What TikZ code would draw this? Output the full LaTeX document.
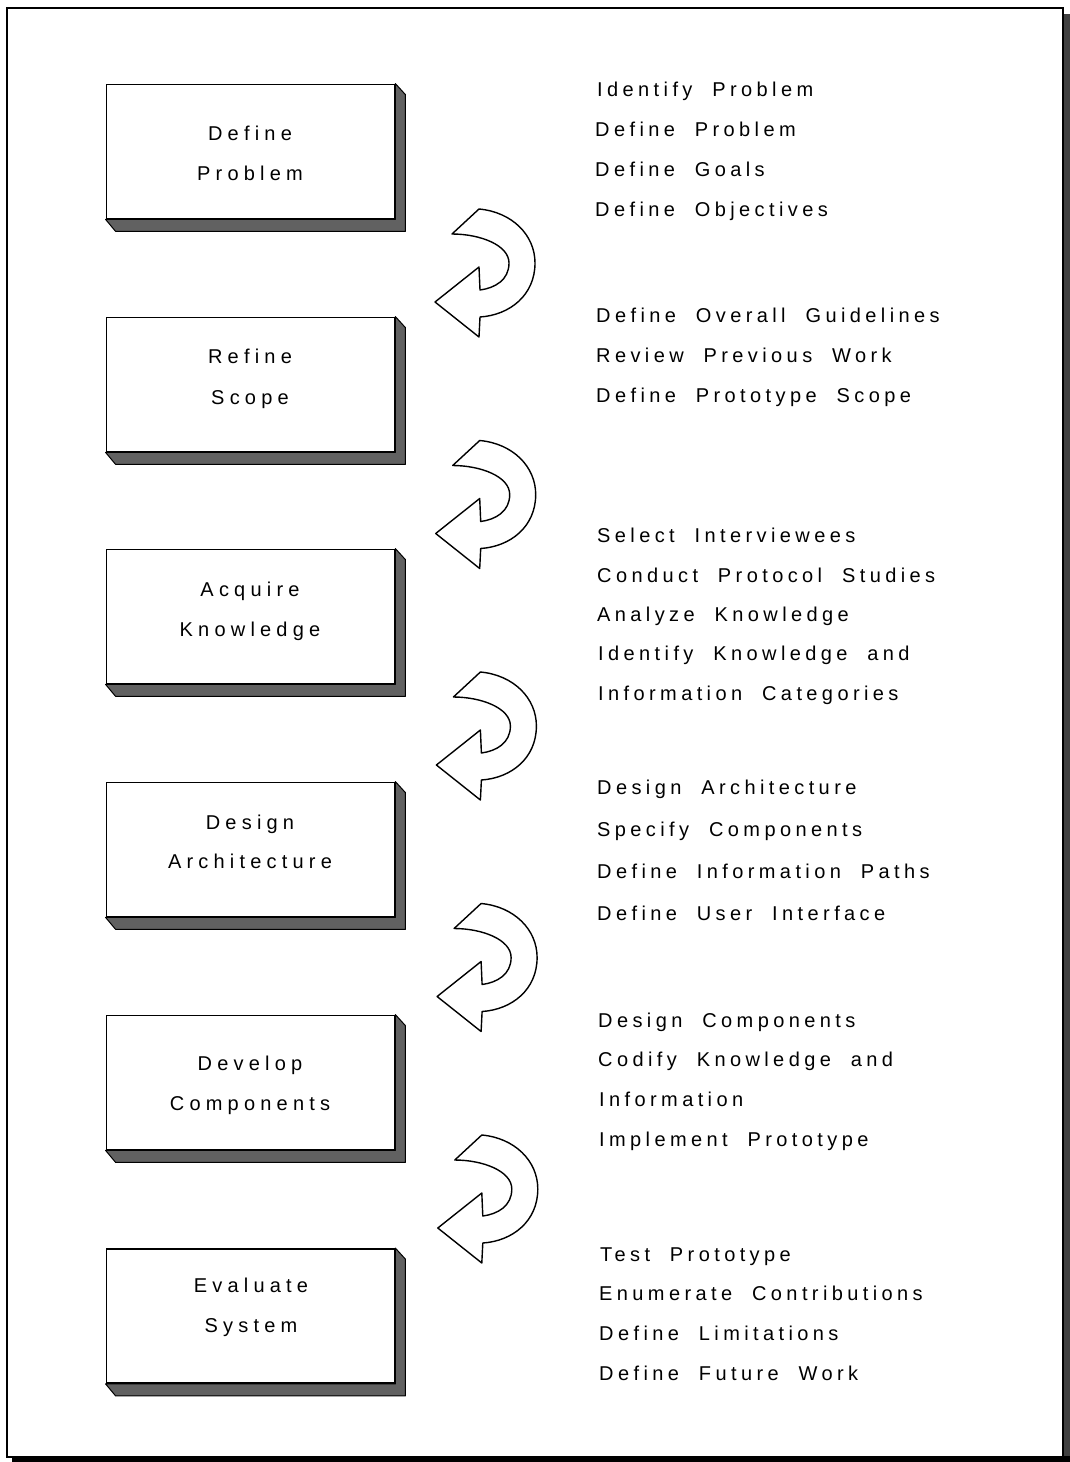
\documentclass[tikz,border=0pt]{standalone}
\usepackage{fontspec}
\setmainfont{Liberation Sans}[LetterSpace=22, WordSpace=2]
\newfontfamily\boxfont{Liberation Sans}[LetterSpace=26, WordSpace=2]
\usetikzlibrary{calc}
\begin{document}
\begin{tikzpicture}[x=1pt,y=-1pt,
  font=\fontsize{20}{24}\selectfont,
  boxface/.style={draw, line width=1.8pt, fill=white, minimum width=288pt, minimum height=134pt, inner sep=0pt},
  boxshade/.style={fill=black!62, draw=black, line width=1pt, line join=round},
  boxtext/.style={anchor=base, inner sep=0pt, font=\boxfont\fontsize{20}{24}\selectfont},
  itemtext/.style={anchor=base west, inner sep=0pt},
  turnarrow/.style={draw=black, line width=1.4pt, fill=white, line join=round}
]
\useasboundingbox (0,0) rectangle (1070,1462);
\fill[white] (0,0) rectangle (1070,1462);
% frame
\fill[black!75] (1063,14) rectangle (1070,1462);
\fill[black] (12,1456) rectangle (1070,1462);
\draw[line width=2.2pt] (7,8) rectangle (1063,1457);

% boxes
\foreach \i/\cy in {1/151.5, 2/384.5, 3/616.5, 4/849.5, 5/1082.5, 6/1316} {
  \node[boxface] (b\i) at (250.5,\cy) {};
  \fill[boxshade] (b\i.north east) -- ($(b\i.north east)+(10,11)$) -- ($(b\i.south east)+(10,12)$)
     -- ($(b\i.south west)+(10,12)$) -- (b\i.south west) -- (b\i.south east) -- cycle;
  \node[boxface] at (b\i) {};
}

% box labels
\node[boxtext] (t1a) at (250,140) {Define};
\node[boxtext] (t1b) at (250,180) {Problem};
\node[boxtext] (t2a) at (250,363) {Refine};
\node[boxtext] (t2b) at (250,404) {Scope};
\node[boxtext] (t3a) at (250,596) {Acquire};
\node[boxtext] (t3b) at (250,636) {Knowledge};
\node[boxtext] (t4a) at (250,829) {Design};
\node[boxtext] (t4b) at (250,868) {Architecture};
\node[boxtext] (t5a) at (250,1070) {Develop};
\node[boxtext] (t5b) at (250,1110) {Components};
\node[boxtext] (t6a) at (251,1292) {Evaluate};
\node[boxtext] (t6b) at (251,1332) {System};

% curved arrows
\foreach \k in {0,...,4} {
  \begin{scope}[shift={({420+0.7*\k},{200+231.5*\k})}]
    \draw[turnarrow] (60,90) -- (59,67) -- (15,102) -- (59,137) -- (60,117)
      .. controls (90,115) and (115,95) .. (115,63)
      .. controls (115,35) and (92,12) .. (59,9)
      -- (32,34)
      .. controls (60,34) and (89,45) .. (89,63)
      .. controls (89,80) and (75,88) .. (60,90) -- cycle;
  \end{scope}
}

% item lists
\node[itemtext] (l1a) at (597,96) {Identify Problem};
\node[itemtext] (l1b) at (595,136) {Define Problem};
\node[itemtext] (l1c) at (595,176) {Define Goals};
\node[itemtext] (l1d) at (595,216) {Define Objectives};

\node[itemtext] (l2a) at (596,322) {Define Overall Guidelines};
\node[itemtext] (l2b) at (596,362) {Review Previous Work};
\node[itemtext] (l2c) at (596,402) {Define Prototype Scope};

\node[itemtext] (l3a) at (597,542) {Select Interviewees};
\node[itemtext] (l3b) at (597,582) {Conduct Protocol Studies};
\node[itemtext] (l3c) at (597,621) {Analyze Knowledge};
\node[itemtext] (l3d) at (598,660) {Identify Knowledge and};
\node[itemtext] (l3e) at (598,700) {Information Categories};

\node[itemtext] (l4a) at (597,794) {Design Architecture};
\node[itemtext] (l4b) at (597,836) {Specify Components};
\node[itemtext] (l4c) at (597,878) {Define Information Paths};
\node[itemtext] (l4d) at (597,920) {Define User Interface};

\node[itemtext] (l5a) at (598,1027) {Design Components};
\node[itemtext] (l5b) at (598,1066) {Codify Knowledge and};
\node[itemtext] (l5c) at (599,1106) {Information};
\node[itemtext] (l5d) at (599,1146) {Implement Prototype};

\node[itemtext] (l6a) at (600,1261) {Test Prototype};
\node[itemtext] (l6b) at (599,1300) {Enumerate Contributions};
\node[itemtext] (l6c) at (599,1340) {Define Limitations};
\node[itemtext] (l6d) at (599,1380) {Define Future Work};
\end{tikzpicture}
\end{document}
